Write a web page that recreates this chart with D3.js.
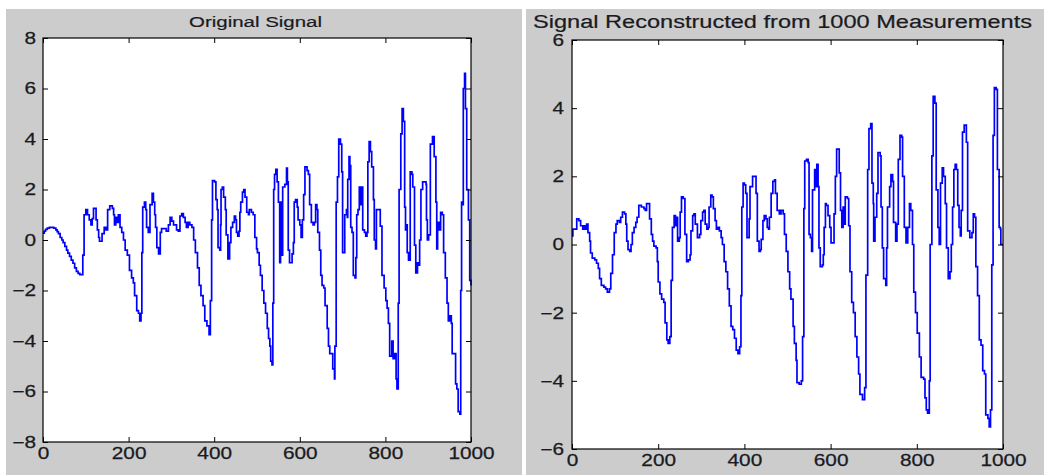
<!DOCTYPE html>
<html>
<head>
<meta charset="utf-8">
<script src="https://cdn.jsdelivr.net/npm/d3@7"></script>
<style>
  body { margin: 0; background: #fff; }
  svg { display: block; }
  .tick text { font-family: "Liberation Sans", Arial, sans-serif; font-size: 16px; fill: #1a1a22; stroke: #1a1a22; stroke-width: 0.25; }
  .title { font-family: "Liberation Sans", Arial, sans-serif; fill: #1a1a22; stroke: #1a1a22; stroke-width: 0.2; }
</style>
</head>
<body>
<svg id="chart" width="1044" height="475"></svg>
<script>
const xTicks = [0, 200, 400, 600, 800, 1000];
const originalTicks = [-8, -6, -4, -2, 0, 2, 4, 6, 8];
const reconTicks = [-6, -4, -2, 0, 2, 4, 6];

// [sample index, value]
const originalSignal = [
  [0,0.27],[3,0.35],[6,0.42],[10,0.47],[15,0.5],[20,0.5],[25,0.47],[30,0.4],[33,0.33],[36,0.25],[40,0.1],[44,0.0],[47,-0.1],[51,-0.25],[55,-0.4],[58,-0.52],[62,-0.65],[66,-0.8],[70,-0.92],
  [74,-1.1],[78,-1.24],[82,-1.32],[86,-1.37],[92,-1.37],[93,-0.6],[96,1.0],[100,1.2],[104,1.0],[108,0.8],[112,0.6],[115,0.85],[118,1.25],
  [124,0.8],[127,0.4],[130,0.1],[132,-0.05],[138,0.25],[143,0.5],[147,0.4],[151,1.2],[156,1.35],[162,1.25],
  [165,1.0],[167,0.6],[170,0.9],[173,0.7],[176,1.0],[180,0.5],[184,0.3],[188,0.0],[192,-0.4],[197,-0.6],
  [202,-1.2],[207,-1.5],[211,-1.7],[214,-2.2],[219,-2.8],[223,-2.9],[226,-3.2],[229,-2.9],[231,-0.5],[233,1.3],
  [237,1.5],[240,1.2],[242,0.5],[246,0.3],[250,1.4],[255,1.85],[258,1.5],[261,1.0],[263,0.5],[266,-0.3],
  [270,-0.55],[274,0.3],[277,0.45],[288,0.35],[293,0.6],[297,0.9],[301,0.75],[305,0.6],[312,0.4],[316,0.35],
  [320,0.95],[324,1.05],[328,0.9],[332,0.7],[335,0.5],[339,0.7],[343,0.6],[348,0.5],[352,0.0],[356,-0.5],
  [361,-1.1],[365,-1.8],[369,-2.2],[374,-2.6],[378,-3.2],[383,-3.4],[388,-3.75],[391,-2.4],[394,0.8],[396,2.35],
  [401,2.3],[404,1.6],[407,1.2],[409,-0.3],[413,-0.4],[415,0.6],[416,2.0],[419,2.1],[422,1.7],[426,1.2],
  [428,0.2],[432,-0.75],[436,-0.1],[439,0.5],[443,0.7],[447,0.95],[450,0.8],[452,0.3],[455,0.15],[458,0.35],
  [460,1.1],[462,1.5],[466,1.9],[469,2.0],[472,1.7],[476,1.1],[480,1.0],[482,1.2],[487,1.1],[491,1.0],
  [495,0.1],[499,-0.35],[501,-0.5],[505,-1.0],[508,-1.4],[512,-2.0],[516,-2.5],[520,-2.9],[524,-3.5],[527,-3.9],
  [530,-4.2],[532,-4.8],[535,-4.95],[537,-2.5],[539,2.0],[541,2.6],[544,2.8],[547,2.3],[550,1.5],[553,-0.9],
  [555,1.5],[558,-0.6],[560,2.1],[565,2.2],[569,2.85],[571,2.3],[573,-0.4],[576,-0.9],[582,-0.55],[585,-0.1],
  [587,1.5],[590,1.6],[594,1.3],[596,0.8],[600,0.6],[603,0.1],[606,0.8],[609,1.8],[612,2.9],[617,2.75],
  [620,2.6],[623,1.4],[627,0.7],[631,0.6],[634,0.7],[637,1.4],[640,1.2],[642,0.3],[646,-0.4],[649,-1.4],
  [652,-1.8],[656,-1.9],[659,-2.6],[664,-3.5],[667,-4.2],[670,-4.5],[674,-4.5],[677,-5.1],[681,-5.5],[682,-4.2],[684,-4.2],[685,1.5],
  [688,2.5],[691,4.0],[695,3.8],[698,2.7],[700,-0.5],[703,-0.5],[705,1.0],[709,1.2],[711,0.9],[712,2.4],[715,3.3],
  [717,2.95],[719,0.5],[722,0.3],[725,-1.4],[729,-1.5],[731,-0.7],[733,1.0],[736,1.2],[739,2.1],[741,1.4],
  [744,2.1],[747,0.4],[751,0.3],[754,0.15],[757,0.3],[759,3.1],[762,3.9],[765,3.5],[768,2.9],[772,1.6],
  [774,0.0],[777,-0.35],[779,1.2],[786,1.2],[788,0.55],[792,-1.4],[797,-1.9],[801,-2.4],[804,-2.7],[807,-3.3],[810,-4.6],
  [815,-4.0],[818,-4.7],[821,-4.5],[825,-5.5],[827,-5.9],[830,-2.5],[832,2.0],[834,2.0],[836,4.2],[839,5.2],[842,4.7],
  [845,1.3],[847,0.4],[849,0.6],[851,-0.5],[854,-0.8],[858,2.7],[862,2.6],[864,2.1],[867,2.1],[868,-0.2],[871,-1.3],
  [875,-0.9],[877,-1.0],[880,0.0],[883,2.0],[887,2.3],[895,2.2],[896,0.8],[898,0.0],[901,0.2],[905,3.8],[910,4.1],
  [914,3.3],[918,1.5],[920,-0.35],[922,0.7],[925,0.4],[929,1.1],[933,1.0],[936,-0.5],[940,-1.5],[944,-2.5],
  [947,-3.2],[951,-3.0],[954,-3.3],[956,-4.5],[961,-4.5],[964,-5.7],[967,-5.9],[970,-6.8],[974,-6.9],[976,-2.0],
  [978,1.5],[980,1.4],[982,6.0],[985,6.6],[987,5.2],[990,2.0],[993,2.0],[994,0.8],[997,-1.6],[1000,-1.8]
];

const reconSignal = [
  [0,0.25],[2,0.45],[8,0.45],[11,0.75],[16,0.7],[20,0.55],[25,0.45],[29,0.55],[32,0.45],[34,0.6],[37,0.35],
  [41,0.1],[43,-0.25],[47,-0.4],[53,-0.45],[57,-0.55],[61,-0.7],[64,-1.0],[68,-1.2],[74,-1.25],[78,-1.3],
  [82,-1.4],[87,-1.3],[90,-0.85],[94,-0.3],[98,0.35],[102,0.6],[105,0.7],[110,0.65],[113,0.8],[117,0.95],
  [122,0.9],[125,0.6],[127,0.1],[130,-0.15],[134,-0.2],[137,0.0],[140,0.35],[144,0.5],[148,0.65],[151,0.8],
  [155,1.15],[161,1.1],[167,1.05],[170,1.0],[173,1.2],[179,1.2],[180,0.75],[184,0.3],[187,0.1],[190,-0.05],[195,-0.1],
  [198,-0.5],[200,-1.1],[204,-1.45],[208,-1.6],[213,-1.7],[216,-2.3],[220,-2.8],[223,-2.9],[227,-2.7],[230,-1.05],
  [233,0.5],[237,0.85],[240,0.55],[242,0.8],[245,0.1],[249,0.2],[251,0.95],[254,1.4],[258,1.35],[262,0.3],
  [266,-0.5],[270,-0.45],[274,-0.3],[276,0.4],[280,0.85],[283,0.9],[286,0.6],[291,0.2],[296,0.3],[299,0.7],
  [303,0.95],[306,1.0],[309,0.6],[313,0.45],[316,0.5],[318,1.1],[322,1.45],[325,1.4],[328,1.05],[332,0.7],
  [335,0.45],[339,0.5],[342,0.4],[346,0.2],[349,0.0],[353,-0.5],[357,-0.8],[361,-1.3],[365,-1.8],[369,-2.4],
  [373,-2.5],[377,-2.75],[381,-3.1],[385,-3.2],[389,-3.0],[392,-1.5],[394,1.1],[397,1.8],[400,1.75],[403,1.5],
  [406,0.2],[410,0.2],[411,0.75],[413,1.7],[419,2.0],[424,2.0],[427,1.5],[430,0.1],[434,-0.2],[437,-0.15],[439,0.15],[443,0.7],
  [446,0.85],[450,0.75],[453,0.5],[456,0.45],[458,0.8],[462,1.5],[466,1.85],[470,1.9],[472,1.5],[476,1.0],
  [481,0.9],[485,1.0],[490,0.9],[493,0.3],[497,-0.2],[501,-0.8],[505,-1.3],[508,-1.6],[513,-2.4],[516,-2.9],
  [520,-3.4],[522,-4.05],[527,-4.1],[532,-4.0],[535,-2.7],[538,1.05],[540,2.45],[544,2.5],[548,2.4],[550,0.3],
  [553,0.2],[556,-0.2],[558,1.6],[563,2.2],[565,1.7],[568,2.35],[571,1.7],[573,-0.1],[576,-0.65],[581,-0.6],
  [583,-0.3],[585,0.5],[588,1.2],[590,1.15],[594,0.85],[598,0.5],[601,0.05],[606,0.05],[608,0.9],[611,2.0],[614,2.8],
  [618,2.8],[620,2.1],[623,1.0],[626,0.5],[629,1.1],[631,0.6],[634,1.4],[639,1.35],[642,0.55],[645,-0.8],[649,-1.7],
  [653,-2.0],[657,-2.7],[661,-3.3],[665,-3.8],[668,-4.4],[674,-4.55],[679,-4.2],[682,-0.9],[686,2.2],[689,3.4],
  [693,3.55],[696,1.8],[699,1.2],[700,0.1],[703,0.8],[707,1.5],[710,2.7],[715,2.6],[717,1.1],[720,-0.1],
  [723,-1.0],[728,-1.2],[730,-0.1],[732,1.1],[737,1.7],[740,2.05],[744,1.85],[746,0.65],[751,0.1],[754,0.6],
  [757,2.5],[761,3.2],[765,3.15],[767,2.0],[771,0.5],[775,0.05],[779,0.5],[783,1.2],[786,1.0],[790,0.0],
  [793,-1.4],[797,-2.0],[801,-2.6],[806,-3.3],[810,-3.9],[816,-3.95],[819,-4.5],[822,-4.85],[825,-4.95],[829,-4.0],
  [831,0.0],[835,2.6],[838,4.35],[842,4.15],[845,1.6],[849,0.5],[852,0.0],[855,1.8],[859,2.25],[862,2.0],
  [866,1.2],[869,-0.1],[873,-1.0],[877,-0.8],[880,0.0],[883,1.1],[886,2.2],[889,2.35],[892,2.2],[895,1.15],
  [898,0.5],[901,0.25],[903,1.0],[906,3.3],[910,3.5],[915,3.0],[918,0.4],[923,0.2],[928,0.35],[931,0.9],
  [934,0.8],[937,-0.65],[941,-1.5],[945,-2.8],[949,-2.95],[953,-3.7],[957,-3.8],[960,-5.0],[965,-5.1],[968,-5.35],
  [971,-4.85],[974,-0.6],[977,3.2],[980,4.6],[984,4.55],[987,2.2],[991,0.5],[994,0.45],[995,0.0],[1000,0.0]
];

const svg = d3.select("#chart");

function drawPanel(p) {
  const g = svg.append("g");

  // grey figure background
  g.append("rect")
    .attr("x", p.bg[0]).attr("y", p.bg[1])
    .attr("width", p.bg[2]).attr("height", p.bg[3])
    .attr("fill", "#cccccc");

  const x = d3.scaleLinear().domain([0, 1000]).range([p.left, p.right]);
  const y = d3.scaleLinear().domain(d3.extent(p.yTicks)).range([p.bottom, p.top]);

  g.append("rect")
    .attr("x", p.left).attr("y", p.top)
    .attr("width", p.right - p.left).attr("height", p.bottom - p.top)
    .attr("fill", "#fff");

  // stair look of the original plot
  const line = d3.line()
    .x((d) => x(d[0]))
    .y((d) => y(d[1]))
    .curve(d3.curveStepAfter);

  g.append("path")
    .datum(p.data)
    .attr("d", line)
    .attr("fill", "none")
    .attr("stroke", "#0000ff")
    .attr("stroke-width", 1.7);

  const fmt = d3.format("d");

  const xAxis = g.append("g")
    .attr("transform", `translate(0,${p.bottom})`)
    .call(d3.axisBottom(x).tickValues(xTicks).tickFormat(fmt).tickSize(-5).tickSizeOuter(0));
  xAxis.selectAll("text")
    .attr("y", 6)
    .attr("dy", "0.71em")
    .attr("transform", "scale(1.3,1)");

  const yAxis = g.append("g")
    .attr("transform", `translate(${p.left},0)`)
    .call(d3.axisLeft(y).tickValues(p.yTicks).tickFormat(fmt).tickSize(-5).tickSizeOuter(0));
  yAxis.selectAll("text")
    .attr("x", -p.labelGap / 1.3)
    .attr("dy", "0.34em")
    .attr("transform", "scale(1.3,1)");

  g.append("g")
    .attr("transform", `translate(0,${p.top})`)
    .call(d3.axisTop(x).tickValues(xTicks).tickSize(-5).tickSizeOuter(0).tickFormat(""));
  g.append("g")
    .attr("transform", `translate(${p.right},0)`)
    .call(d3.axisRight(y).tickValues(p.yTicks).tickSize(-5).tickSizeOuter(0).tickFormat(""));

  g.selectAll(".domain").remove();
  g.selectAll(".tick line").attr("stroke", "#000");

  g.append("rect")
    .attr("x", p.left).attr("y", p.top)
    .attr("width", p.right - p.left).attr("height", p.bottom - p.top)
    .attr("fill", "none")
    .attr("stroke", "#000")
    .attr("stroke-width", 1.2);

  g.append("text")
    .attr("class", "title")
    .attr("x", p.titleX)
    .attr("y", p.titleY)
    .attr("text-anchor", "middle")
    .attr("font-size", p.titleSize)
    .attr("textLength", p.titleWidth)
    .attr("lengthAdjust", "spacingAndGlyphs")
    .text(p.title);
}

drawPanel({
  bg: [6, 9, 516, 466],
  left: 43, right: 471, top: 38, bottom: 442,
  yTicks: originalTicks,
  data: originalSignal,
  labelGap: 7,
  title: "Original Signal",
  titleX: 255.5, titleY: 27, titleSize: 15.5, titleWidth: 133
});

drawPanel({
  bg: [526, 9, 518, 466],
  left: 572, right: 1003, top: 40, bottom: 449,
  yTicks: reconTicks,
  data: reconSignal,
  labelGap: 8,
  title: "Signal Reconstructed from 1000 Measurements",
  titleX: 782.5, titleY: 28, titleSize: 18, titleWidth: 499
});
</script>
</body>
</html>
